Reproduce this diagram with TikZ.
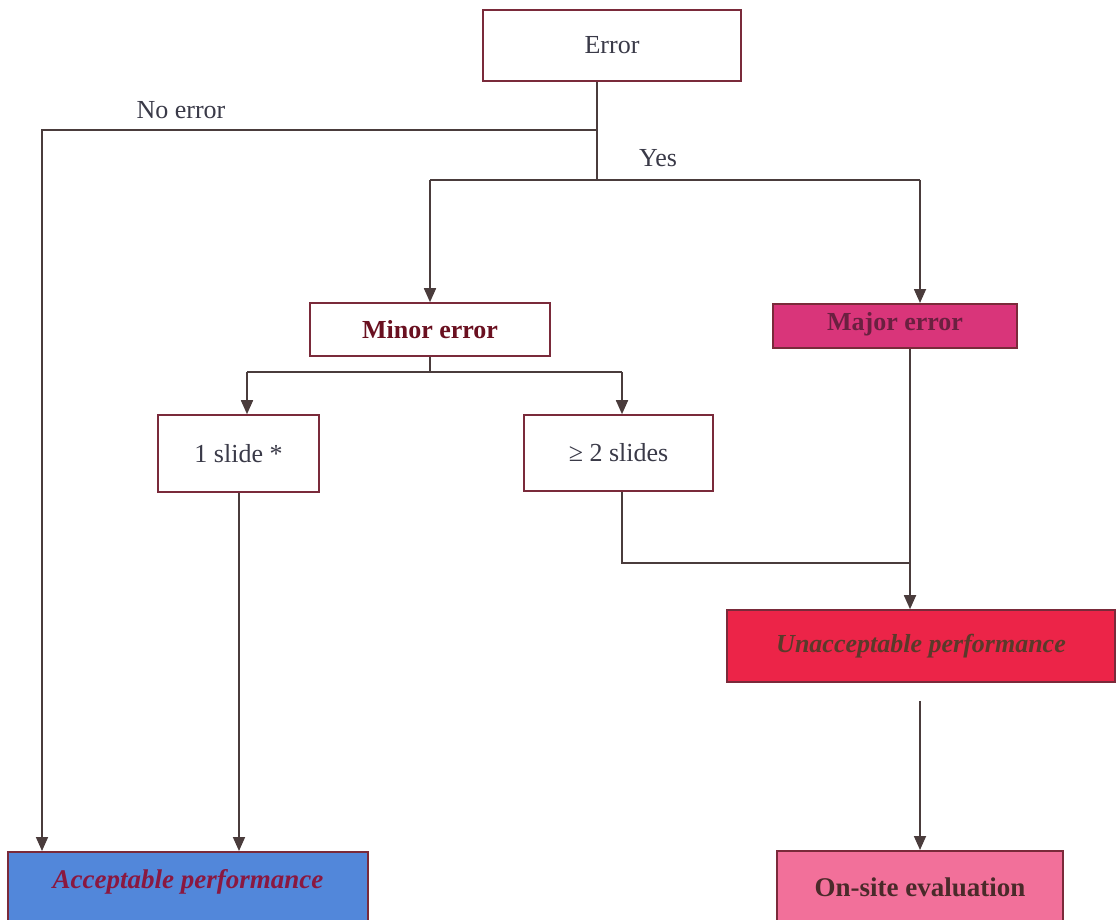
\documentclass[tikz,border=0pt]{standalone}
\usepackage{fontspec}
\setmainfont{Liberation Serif}
\usetikzlibrary{arrows.meta}

\definecolor{edge}{HTML}{4A3C3C}
\definecolor{frame}{HTML}{7A2A3A}
\definecolor{ink}{HTML}{3A3A48}
\definecolor{minorink}{HTML}{6A1020}
\definecolor{majorfill}{HTML}{D9357A}
\definecolor{majorink}{HTML}{6A2040}
\definecolor{unaccfill}{HTML}{EC2448}
\definecolor{unaccink}{HTML}{5A3A2A}
\definecolor{accfill}{HTML}{5287DA}
\definecolor{accink}{HTML}{8A1840}
\definecolor{sitefill}{HTML}{F2709A}
\definecolor{siteink}{HTML}{4A2A2A}

\tikzset{
  box/.style={draw=frame, line width=1.6pt, rectangle, inner sep=0pt,
    font=\fontsize{26}{30}\selectfont, text=ink},
  link/.style={draw=edge, line width=1.7pt},
  arrowlink/.style={link, -{Triangle[length=14pt,width=12pt]}},
  lbl/.style={font=\fontsize{26}{30}\selectfont, text=ink, inner sep=0pt}
}

\begin{document}
\begin{tikzpicture}[x=1pt, y=-1pt]
  \clip (0,0) rectangle (1118,920);
  \useasboundingbox (0,0) rectangle (1118,920);
  \fill[white] (0,0) rectangle (1118,920);

  % boxes
  \node[box, minimum width=258pt, minimum height=71pt] (err) at (612,45.5) {Error};
  \node[box, minimum width=240pt, minimum height=53pt, text=minorink,
        font=\fontsize{26}{30}\selectfont\bfseries] (minor) at (430,329.5) {Minor error};
  \node[box, fill=majorfill, minimum width=244pt, text height=27pt, text depth=17pt,
        text=majorink, font=\fontsize{26}{30}\selectfont\bfseries,
        anchor=north] (major) at (895,303) {Major error};
  \node[box, minimum width=161pt, minimum height=77pt] (one) at (238.5,453.5) {1 slide *};
  \node[box, minimum width=189pt, minimum height=76pt] (two) at (618.5,453) {≥ 2 slides};
  \node[box, fill=unaccfill, minimum width=388pt, minimum height=72pt, text=unaccink,
        font=\fontsize{26}{30}\selectfont\bfseries\itshape] (unacc) at (921,646) {Unacceptable performance};
  \node[box, fill=accfill, minimum width=360pt, text height=37pt, text depth=52pt,
        text=accink, font=\fontsize{27}{30}\selectfont\bfseries\itshape,
        anchor=north] (acc) at (188,851) {Acceptable performance};
  \node[box, fill=sitefill, minimum width=286pt, text height=46pt, text depth=44pt,
        text=siteink, font=\fontsize{27}{30}\selectfont\bfseries,
        anchor=north] (site) at (920,850) {On-site evaluation};

  % labels
  \node[lbl] (noerr) at (181,110) {No error};
  \node[lbl] (yes) at (658,158) {Yes};

  % junction points
  \coordinate (j1) at (597,130);
  \coordinate (j2) at (597,180);
  \coordinate (nox) at (42,0);
  \coordinate (majx) at (920,0);
  \coordinate (m1) at (430,372);
  \coordinate (onex) at (247,0);
  \coordinate (twox) at (622,0);
  \coordinate (m2) at (622,563);
  \coordinate (rx) at (910,0);
  \coordinate (ax) at (239,0);

  % connectors
  \draw[link] (err.south -| j1) -- (j2);
  \draw[arrowlink] (j1) -| (acc.north -| nox);
  \draw[link] (j2 -| minor.north) -- (j2 -| majx);
  \draw[arrowlink] (j2 -| minor.north) -- (minor.north);
  \draw[arrowlink] (j2 -| majx) -- (major.north -| majx);
  \draw[link] (minor.south) -- (m1);
  \draw[link] (m1 -| onex) -- (m1 -| twox);
  \draw[arrowlink] (m1 -| onex) -- (one.north -| onex);
  \draw[arrowlink] (m1 -| twox) -- (two.north -| twox);
  \draw[link] (two.south -| m2) -- (m2) -- (m2 -| rx);
  \draw[arrowlink] (major.south -| rx) -- (unacc.north -| rx);
  \draw[arrowlink] (one.south -| ax) -- (acc.north -| ax);
  \draw[arrowlink, shorten <=18pt] (unacc.south -| site.north) -- (site.north);
\end{tikzpicture}
\end{document}
